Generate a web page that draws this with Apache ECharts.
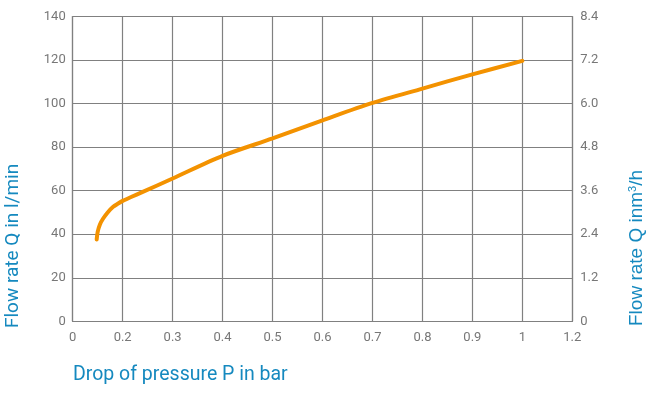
<!DOCTYPE html>
<html>
<head>
<meta charset="utf-8">
<script src="https://cdn.jsdelivr.net/npm/echarts@6/dist/echarts.min.js"></script>
<style>html,body{margin:0;padding:0;background:#fff}#c{width:650px;height:394px}</style>
</head>
<body>
<div id="c"></div>
<script>
// Tick labels of the x axis (equally spaced positions)
var xTickValues = [0, 0.2, 0.3, 0.4, 0.5, 0.6, 0.7, 0.8, 0.9, 1, 1.2];
var xTickLabels = ['0', '0.2', '0.3', '0.4', '0.5', '0.6', '0.7', '0.8', '0.9', '1', '1.2'];
var leftTicks = [0, 20, 40, 60, 80, 100, 120, 140];
var rightTickLabels = ['0', '1.2', '2.4', '3.6', '4.8', '6.0', '7.2', '8.4'];
// Series: pressure drop (bar) vs flow rate (l/min)
var pressure = [0.096, 0.100, 0.109, 0.122, 0.140, 0.162, 0.182, 0.2, 0.218, 0.238, 0.3, 0.4, 0.5, 0.6, 0.7, 0.8, 0.9, 1.0];
var flow = [37.6, 41.1, 44.5, 47.2, 50.0, 52.6, 54.1, 55.3, 57.2, 59.2, 65.6, 76.0, 84.0, 92.3, 100.3, 106.9, 113.4, 119.6];

// axis scale: labelled ticks are equally spaced
function toPos(p) {
  for (var i = 0; i < xTickValues.length - 1; i++) {
    var a = xTickValues[i], b = xTickValues[i + 1];
    if (p <= b) return i + (p - a) / (b - a);
  }
  return xTickValues.length - 1;
}
var data = pressure.map(function (p, i) { return [toPos(p), flow[i]]; });

var gray = '#808080';
var labelStyle = { color: '#777', fontSize: 13, fontFamily: 'Roboto' };
var blue = '#1589bf';
var chart = echarts.init(document.getElementById('c'), null, { renderer: 'canvas' });
chart.setOption({
  animation: false,
  grid: { left: 72.7, right: 77.7, top: 16.5, bottom: 72.7 },
  xAxis: {
    type: 'value', min: 0, max: xTickLabels.length - 1, interval: 1,
    axisLine: { show: true, lineStyle: { color: gray, width: 1.2 } },
    axisTick: { show: false },
    splitLine: { show: true, lineStyle: { color: gray, width: 1.2 } },
    axisLabel: Object.assign({ margin: 10, formatter: function (v) { return xTickLabels[Math.round(v)]; } }, labelStyle)
  },
  yAxis: [{
    type: 'value', min: leftTicks[0], max: leftTicks[leftTicks.length - 1], interval: 20,
    axisLine: { show: true, lineStyle: { color: gray, width: 1.2 } },
    axisTick: { show: false },
    splitLine: { show: true, lineStyle: { color: gray, width: 1.2 } },
    axisLabel: Object.assign({ margin: 7 }, labelStyle)
  }, {
    type: 'value', min: 0, max: 8.4, interval: 1.2, position: 'right',
    axisLine: { show: true, lineStyle: { color: gray, width: 1.2 } },
    axisTick: { show: false },
    splitLine: { show: false },
    axisLabel: Object.assign({ margin: 8, formatter: function (v) { return rightTickLabels[Math.round(v / 1.2)]; } }, labelStyle)
  }],
  graphic: [
    { type: 'text', left: 73, top: 365, style: { text: 'Drop of pressure P in bar', fill: blue, font: '19.5px Roboto' } },
    { type: 'text', x: 4, y: 328, rotation: Math.PI / 2, style: { text: 'Flow rate Q in l/min', fill: blue, font: '19px Roboto', textBaseline: 'top' } },
    { type: 'text', x: 627, y: 326, rotation: Math.PI / 2, style: { rich: { s: { fontSize: 11, fill: blue, verticalAlign: 'top', padding: [0, 0, 9, 0] }, n: { fontSize: 19, fill: blue } }, text: '{n|Flow rate Q inm}{s|3}{n|/h}', fill: blue, font: '19px Roboto', textBaseline: 'top' } }
  ],
  series: [{
    type: 'line', data: data, yAxisIndex: 0, showSymbol: false, symbol: 'none',
    smooth: 0.3,
    lineStyle: { color: '#f39200', width: 4, cap: 'round' }
  }]
});
</script>
</body>
</html>
